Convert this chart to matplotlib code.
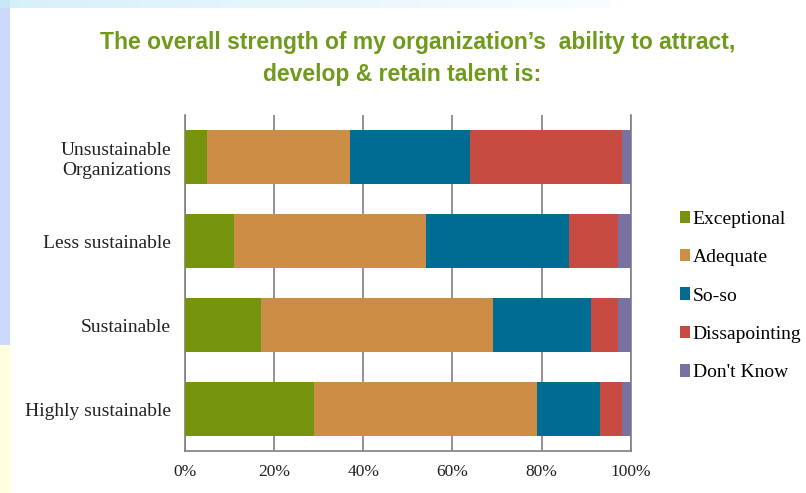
import matplotlib
matplotlib.use("Agg")
import matplotlib.pyplot as plt
from matplotlib.patches import Patch, Rectangle
import numpy as np

categories = ["Unsustainable\nOrganizations", "Less sustainable", "Sustainable", "Highly sustainable"]
series_names = ["Exceptional", "Adequate", "So-so", "Dissapointing", "Don't Know"]
exceptional = [5, 11, 17, 29]
adequate = [32, 43, 52, 50]
so_so = [27, 32, 22, 14]
dissapointing = [34, 11, 6, 5]
dont_know = [2, 3, 3, 2]
x_ticks = [0, 20, 40, 60, 80, 100]
x_tick_labels = ["0%", "20%", "40%", "60%", "80%", "100%"]

colors = ["#76930E", "#CB8E44", "#006C92", "#C84B42", "#7A71A0"]
series = [exceptional, adequate, so_so, dissapointing, dont_know]

W, H = 806, 493
fig = plt.figure(figsize=(W / 100, H / 100), dpi=100)
fig.patch.set_facecolor("white")

# slide background strips along the top and left edges
def fig_rect(x0, y0, x1, y1, color):
    fig.patches.append(Rectangle((x0 / W, 1 - y1 / H), (x1 - x0) / W, (y1 - y0) / H,
                                 transform=fig.transFigure, facecolor=color,
                                 edgecolor="none", zorder=0))

grad = np.linspace(0, 1, 60)
for i, t in enumerate(grad):
    x0 = 10 + i * 10
    c = np.array([0.84, 0.94, 0.98]) * (1 - t) + np.array([0.97, 0.99, 1.0]) * t
    fig_rect(x0, 0, x0 + 10.5, 8, tuple(c))
fig_rect(0, 0, 10, 345, "#CCD8FC")
fig_rect(0, 0, 10, 8, "#C8E8F8")
fig_rect(0, 345, 10, H, "#FFFFDF")

ax = fig.add_axes([184.7 / W, 1 - 451 / H, 446.3 / W, 336 / H])
ax.set_facecolor("white")

y = np.arange(len(categories))
left = np.zeros(len(categories))
for vals, col, name in zip(series, colors, series_names):
    ax.barh(y, vals, left=left, height=0.65, color=col, label=name, zorder=3)
    left += np.array(vals)

ax.set_xlim(0, 100)
ax.set_ylim(len(categories) - 0.5, -0.5)
ax.set_yticks(y)
ax.set_yticklabels(categories, family="Liberation Serif", fontsize=14, color="#222222")
ax.set_xticks(x_ticks)
ax.set_xticklabels(x_tick_labels, family="Liberation Serif", fontsize=12.5, color="#222222")
ax.tick_params(axis="both", length=0)
ax.tick_params(axis="y", pad=10)
ax.tick_params(axis="x", pad=9)
ax.xaxis.grid(True, color="#808080", linewidth=1.2, zorder=1)
ax.set_axisbelow(True)
for side in ["left", "right", "bottom"]:
    ax.spines[side].set_color("#808080")
    ax.spines[side].set_linewidth(1.2)
ax.spines["top"].set_visible(False)

handles = [Patch(facecolor=c, edgecolor="none") for c in colors]
fig.legend(handles, series_names, loc="center left", bbox_to_anchor=(680 / W, 1 - 296 / H),
           frameon=False, prop={"family": "Liberation Serif", "size": 14},
           handlelength=0.5, handleheight=0.6, handletextpad=0.15, labelspacing=1.1,
           borderpad=0, borderaxespad=0)

fig.text(418 / W, 1 - 42 / H, "The overall strength of my organization\u2019s  ability to attract,",
         ha="center", va="center", fontsize=16.5, fontweight="bold", color="#6F9A1C",
         family=["Liberation Sans Narrow", "Liberation Sans", "DejaVu Sans"])
fig.text(402 / W, 1 - 74 / H, "develop & retain talent is:",
         ha="center", va="center", fontsize=16.5, fontweight="bold", color="#6F9A1C",
         family=["Liberation Sans Narrow", "Liberation Sans", "DejaVu Sans"])

fig.savefig("out.png", dpi=100)
